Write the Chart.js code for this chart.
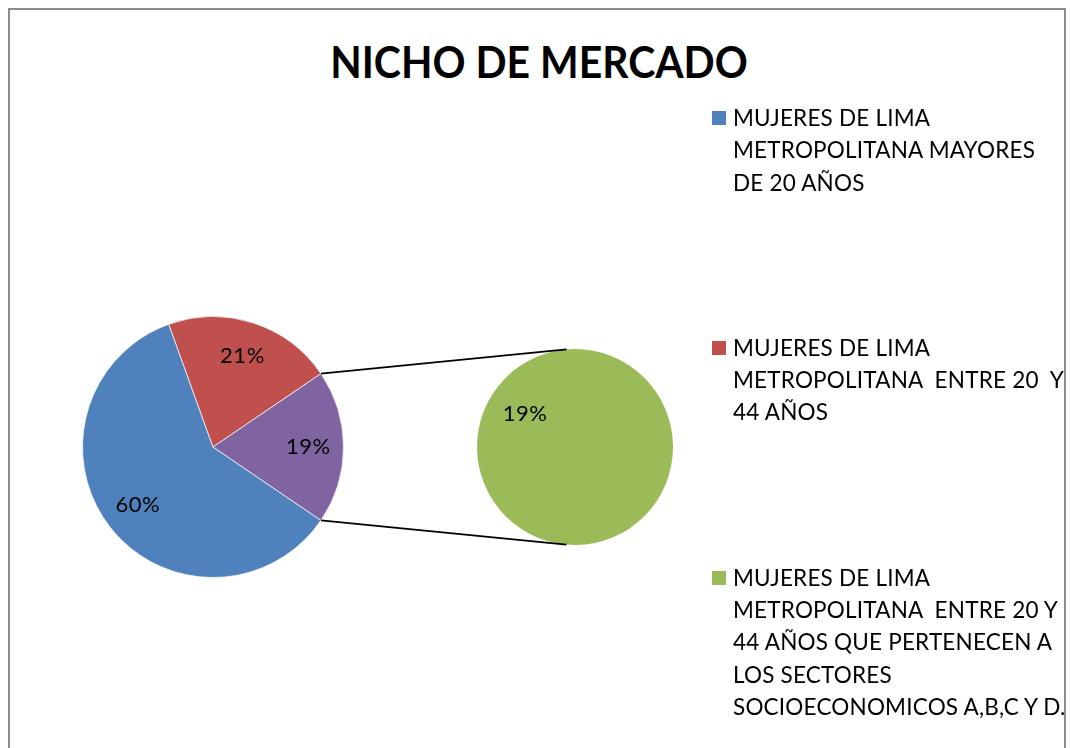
<!DOCTYPE html>
<html>
<head>
<meta charset="utf-8">
<script src="https://cdn.jsdelivr.net/npm/chart.js@4.4.1/dist/chart.umd.min.js"></script>
<style>
  html, body { margin: 0; padding: 0; background: #fff; }
  #wrap { position: relative; width: 1070px; height: 748px; overflow: hidden; background: #fff; }
  #frame { position: absolute; left: 8px; top: 8px; width: 1058px; height: 760px; border: 2px solid #8c8c8c; box-sizing: border-box; }
  canvas { position: absolute; left: 0; top: 0; }
  #title { position: absolute; left: 0; width: 1078px; top: 34px; text-align: center; transform: scaleX(0.93);
           font-family: Lato, "Open Sans", sans-serif; font-weight: bold; font-size: 44px; color: #000; line-height: 54px; }
  #legend { position: absolute; left: 712px; top: 102px; font-family: Lato, "Open Sans", sans-serif; font-size: 22.5px; letter-spacing: 0.2px; color: #000; }
  .item { position: relative; padding-left: 21px; line-height: 32.3px; white-space: pre; margin-bottom: 133px; }
  .box { position: absolute; left: 0; top: 9px; width: 14px; height: 14px; }
</style>
</head>
<body>
<div id="wrap">
  <div id="frame"></div>
  <div id="title"></div>
  <canvas id="c1" width="1070" height="748"></canvas>
  <canvas id="c2" width="1070" height="748"></canvas>
  <div id="legend"></div>
</div>
<script>
const chartTitle = "NICHO DE MERCADO";
const categories = [
  "MUJERES DE LIMA\nMETROPOLITANA MAYORES\nDE 20 AÑOS",
  "MUJERES DE LIMA\nMETROPOLITANA  ENTRE 20  Y\n44 AÑOS",
  "MUJERES DE LIMA\nMETROPOLITANA  ENTRE 20 Y\n44 AÑOS QUE PERTENECEN A\nLOS SECTORES\nSOCIOECONOMICOS A,B,C Y D."
];
const mainValues = [60, 21, 19];      // blue, red, purple ("otro" = second pie)
const secondValues = [19];            // green
const mainColors = ["#4F81BD", "#C0504D", "#8064A2"];
const secondColors = ["#9BBB59"];
const legendColors = ["#4F81BD", "#C0504D", "#9BBB59"];

document.getElementById('title').textContent = chartTitle;
const leg = document.getElementById('legend');
categories.forEach((c, i) => {
  const d = document.createElement('div'); d.className = 'item';
  const b = document.createElement('span'); b.className = 'box'; b.style.background = legendColors[i];
  d.appendChild(b); d.appendChild(document.createTextNode(c)); leg.appendChild(d);
});

const labelFont = '22px Lato, "Open Sans", sans-serif';
function labelPlugin(ratio) {
  return {
    id: 'pctLabels',
    afterDatasetsDraw(chart) {
      const ctx = chart.ctx;
      const ds = chart.data.datasets[0];
      const meta = chart.getDatasetMeta(0);
      ctx.save();
      ctx.font = labelFont; ctx.fillStyle = '#000';
      ctx.textAlign = 'center'; ctx.textBaseline = 'middle';
      if ('letterSpacing' in ctx) ctx.letterSpacing = '0.5px';
      meta.data.forEach((arc, i) => {
        const p = arc.getProps(['x','y','startAngle','endAngle','outerRadius'], true);
        const mid = (p.startAngle + p.endAngle) / 2;
        const r = p.outerRadius * ratio;
        ctx.fillText(ds.data[i] + '%', p.x + Math.cos(mid) * r, p.y + Math.sin(mid) * r);
      });
      ctx.restore();
    }
  };
}

const c1 = new Chart(document.getElementById('c1'), {
  type: 'pie',
  data: { labels: ["a","b","otro"], datasets: [{ data: mainValues, backgroundColor: mainColors, borderColor: 'rgba(255,255,255,0.7)', borderWidth: 1 }] },
  options: {
    responsive: false, animation: false, rotation: 124.2,
    layout: { padding: { left: 82, right: 726, top: 316, bottom: 170 } },
    plugins: { legend: { display: false }, tooltip: { enabled: false }, title: { display: false } }
  },
  plugins: [labelPlugin(0.73)]
});

const connector = {
  id: 'connector',
  afterDatasetsDraw(chart) {
    const other = c1.getDatasetMeta(0).data[2].getProps(['x','y','startAngle','endAngle','outerRadius'], true);
    const sec = chart.getDatasetMeta(0).data[0].getProps(['x','y','outerRadius'], true);
    const ctx = chart.ctx;
    const a1 = other.startAngle, a2 = other.endAngle;
    const off = 5 * Math.PI / 180;
    const t1 = -Math.PI / 2 - off, t2 = Math.PI / 2 + off;
    ctx.save();
    ctx.strokeStyle = '#000'; ctx.lineWidth = 1.6;
    ctx.beginPath();
    ctx.moveTo(other.x + Math.cos(a1) * other.outerRadius, other.y + Math.sin(a1) * other.outerRadius);
    ctx.lineTo(sec.x + Math.cos(t1) * sec.outerRadius, sec.y + Math.sin(t1) * sec.outerRadius);
    ctx.moveTo(other.x + Math.cos(a2) * other.outerRadius, other.y + Math.sin(a2) * other.outerRadius);
    ctx.lineTo(sec.x + Math.cos(t2) * sec.outerRadius, sec.y + Math.sin(t2) * sec.outerRadius);
    ctx.stroke();
    ctx.restore();
  }
};

new Chart(document.getElementById('c2'), {
  type: 'pie',
  data: { labels: [categories[2]], datasets: [{ data: secondValues, backgroundColor: secondColors, borderWidth: 0 }] },
  options: {
    responsive: false, animation: false, rotation: 123.4,
    layout: { padding: { left: 477, right: 397, top: 349, bottom: 203 } },
    plugins: { legend: { display: false }, tooltip: { enabled: false }, title: { display: false } }
  },
  plugins: [connector, labelPlugin(0.61)]
});
</script>
</body>
</html>
